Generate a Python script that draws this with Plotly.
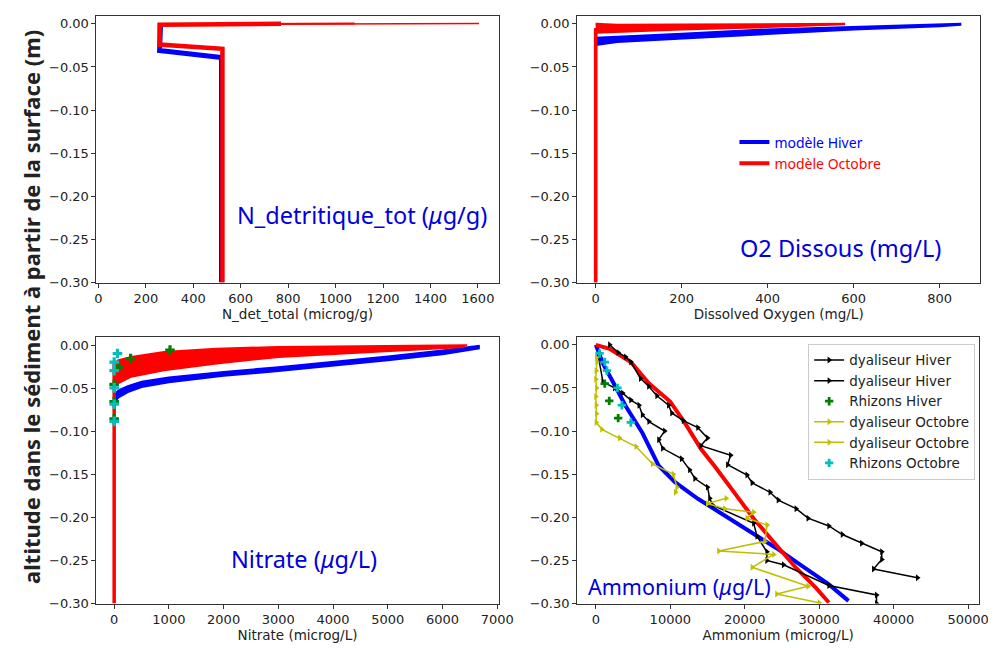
import plotly.graph_objects as go

BLUE = "#0000ff"
RED = "#ff0000"
BLACK = "#000000"
YEL = "#bfbf00"
CYAN = "#00bfbf"
GREEN = "#008000"

# ---------------- N_detritique (top-left) ----------------
ndet_hiver_depth = [0.0, -0.031, -0.039, -0.30]
ndet_hiver = [262, 258, 519, 519]
ndet_oct_depth = [0.0, -0.001, -0.024, -0.029, -0.30]
ndet_oct = [770, 258, 258, 523, 523]
ndet_spike_depth = [0.0003, -0.0008]
ndet_spike_a = [1605, 258]
ndet_spike_b = [1080, 258]

# ---------------- O2 (top-right) ----------------
o2_hiver_x = [850, 800, 600, 400, 200, 50, 0]
o2_hiver_top = [0.0, -0.0007, -0.0038, -0.0065, -0.0115, -0.015, -0.016]
o2_hiver_bot = [-0.001, -0.0027, -0.0065, -0.0115, -0.0165, -0.021, -0.0245]
o2_oct_x = [580, 400, 200, 50, 0]
o2_oct_top = [0.0, 0.0, -0.0008, -0.001, 0.0]
o2_oct_bot = [-0.0005, -0.0038, -0.0065, -0.009, -0.0103]
o2_vert_x = [0, 0]
o2_vert_depth = [-0.005, -0.30]

# ---------------- Nitrate (bottom-left) ----------------
no3_hiver_x = [6680, 6000, 5000, 4000, 3000, 2000, 1000, 500, 250, 80, 0]
no3_hiver_top_y = [0.0, -0.0055, -0.0125, -0.019, -0.025, -0.0305, -0.037, -0.042, -0.047, -0.052, -0.057]
no3_hiver_bot_y = [-0.003, -0.0100, -0.0170, -0.0235, -0.0295, -0.0350, -0.0425, -0.048, -0.054, -0.060, -0.066]
no3_oct_top_x = [6450, 5000, 3000, 1870, 910, 310, 70, 0]
no3_oct_top_y = [0.0005, -0.0005, -0.0015, -0.0034, -0.0073, -0.013, -0.017, -0.022]
no3_oct_bot_x = [6400, 5000, 4000, 3000, 1870, 910, 310, 50, 0]
no3_oct_bot_y = [-0.0015, -0.006, -0.009, -0.013, -0.0207, -0.0284, -0.036, -0.0437, -0.046]
no3_vert_x = [0, 0]
no3_vert_depth = [-0.02, -0.30]
no3_rhiz_hiver_x = [1020, 300, 80, 0, 0, 0]
no3_rhiz_hiver_y = [-0.005, -0.015, -0.025, -0.045, -0.065, -0.085]
no3_rhiz_oct_x = [60, 0, 0, 0, 0, 0]
no3_rhiz_oct_y = [-0.009, -0.019, -0.029, -0.049, -0.068, -0.088]

# ---------------- Ammonium (bottom-right) ----------------
nh4_oct_x = [0, 1846, 4703, 7121, 9978, 11956, 14154, 15912, 18549, 21187, 23824, 26901, 29538, 31297]
nh4_oct_y = [0.0, -0.0046, -0.0199, -0.0447, -0.0657, -0.0906, -0.1211, -0.1402, -0.1708, -0.2014, -0.2281, -0.2587, -0.2816, -0.2988]
nh4_hiver_x = [0, 967, 2286, 4044, 6242, 8440, 10637, 13714, 17231, 20747, 24264, 27780, 31297, 33934]
nh4_hiver_y = [0.0, -0.0218, -0.0428, -0.0715, -0.102, -0.1402, -0.1593, -0.1785, -0.1976, -0.2167, -0.2358, -0.2568, -0.2778, -0.2969]

dial_h1_x = [1850, 3000, 4000, 4700, 6000, 7100, 8200, 9770, 10200, 11750, 13700, 15000, 14100, 18100,
             17700, 20300, 21000, 23400, 24500, 26900, 28500, 31300, 33100, 35700, 38400, 38400, 37300, 43200]
dial_h1_y = [0.0, -0.009, -0.014, -0.02, -0.039, -0.048, -0.059, -0.07, -0.079, -0.088, -0.096, -0.108, -0.117, -0.128,
             -0.139, -0.151, -0.16, -0.171, -0.18, -0.19, -0.201, -0.21, -0.22, -0.23, -0.24, -0.249, -0.26, -0.27]
dial_h2_x = [300, 964, 2500, 3600, 4700, 5800, 6250, 7130, 9240, 8450, 8970, 11500, 12600, 13300, 15000, 15300,
             15700, 21200, 21650, 22970, 22970, 25200, 31300, 37700, 37700]
dial_h2_y = [-0.012, -0.043, -0.050, -0.056, -0.064, -0.070, -0.081, -0.089, -0.100, -0.110, -0.120, -0.132, -0.145,
             -0.155, -0.165, -0.178, -0.186, -0.207, -0.222, -0.240, -0.250, -0.255, -0.279, -0.290, -0.300]
rhiz_h_x = [1200, 1800, 3000]
rhiz_h_y = [-0.045, -0.065, -0.085]
dial_o1_x = [100, 150, 50, 0, 100, 0, 50, 100, 50, 800, 3200, 5400, 7600, 10400, 10900, 10700]
dial_o1_y = [-0.015, -0.02, -0.03, -0.04, -0.05, -0.06, -0.07, -0.08, -0.09, -0.098, -0.108, -0.118, -0.138, -0.15, -0.165, -0.171]
dial_o2_x = [17500, 15000, 17300, 21200, 20300, 23000, 22700, 16500, 23900, 21000, 28500, 24300, 30000]
dial_o2_y = [-0.178, -0.184, -0.19, -0.194, -0.201, -0.209, -0.228, -0.239, -0.243, -0.258, -0.28, -0.289, -0.299]
rhiz_o_x = [500, 1200, 1500, 2900, 3500, 4700]
rhiz_o_y = [-0.01, -0.02, -0.03, -0.05, -0.07, -0.09]

fig = go.Figure()


def line(x, y, color, width, xa, ya, fill=None, name=None, legend=None, show=False):
    fig.add_trace(go.Scatter(
        x=x, y=y, mode="lines", xaxis=xa, yaxis=ya,
        line=dict(color=color, width=width),
        fill=fill, fillcolor=color if fill else None,
        name=name, showlegend=show, legend=legend, hoverinfo="skip"))


# top-left
line(ndet_hiver, ndet_hiver_depth, BLUE, 5, "x", "y")
line(ndet_spike_a, ndet_spike_depth, RED, 1.5, "x", "y")
line(ndet_spike_b, ndet_spike_depth, RED, 2, "x", "y")
line(ndet_oct, ndet_oct_depth, RED, 4.5, "x", "y")

# top-right
line(o2_vert_x, o2_vert_depth, BLUE, 3, "x2", "y2")
line(o2_hiver_x, o2_hiver_top, BLUE, 2, "x2", "y2")
line(o2_hiver_x, o2_hiver_bot, BLUE, 2, "x2", "y2", fill="tonexty")
line(o2_oct_x, o2_oct_top, RED, 2, "x2", "y2")
line(o2_oct_x, o2_oct_bot, RED, 2, "x2", "y2", fill="tonexty")
line(o2_vert_x, o2_vert_depth, RED, 3.5, "x2", "y2")

# bottom-left
line(no3_hiver_x, no3_hiver_top_y, BLUE, 2, "x3", "y3")
line(no3_hiver_x, no3_hiver_bot_y, BLUE, 2, "x3", "y3", fill="tonexty")
line(no3_oct_top_x, no3_oct_top_y, RED, 2, "x3", "y3")
line(no3_oct_bot_x, no3_oct_bot_y, RED, 2, "x3", "y3", fill="tonexty")
line(no3_vert_x, no3_vert_depth, RED, 3.5, "x3", "y3")
fig.add_trace(go.Scatter(x=no3_rhiz_hiver_x, y=no3_rhiz_hiver_y, mode="markers", xaxis="x3", yaxis="y3",
                         marker=dict(symbol="cross", size=8, color=GREEN), showlegend=False, hoverinfo="skip"))
fig.add_trace(go.Scatter(x=no3_rhiz_oct_x, y=no3_rhiz_oct_y, mode="markers", xaxis="x3", yaxis="y3",
                         marker=dict(symbol="cross", size=8, color=CYAN), showlegend=False, hoverinfo="skip"))

# bottom-right models (also feed the top-right legend)
line(nh4_hiver_x, nh4_hiver_y, BLUE, 4, "x4", "y4", name='<span style="color:#0000ff">modèle Hiver</span>',
     legend="legend", show=True)
line(nh4_oct_x, nh4_oct_y, RED, 4, "x4", "y4", name='<span style="color:#ff0000">modèle Octobre</span>',
     legend="legend", show=True)


def obs(x, y, color, name, mode, symbol, size):
    fig.add_trace(go.Scatter(
        x=x, y=y, mode=mode, xaxis="x4", yaxis="y4", name=name, legend="legend2",
        line=dict(color=color, width=1.5),
        marker=dict(symbol=symbol, size=size, color=color), hoverinfo="skip"))


obs(dial_h1_x, dial_h1_y, BLACK, "dyaliseur Hiver", "lines+markers", "triangle-right", 6)
obs(dial_h2_x, dial_h2_y, BLACK, "dyaliseur Hiver", "lines+markers", "triangle-right", 6)
obs(rhiz_h_x, rhiz_h_y, GREEN, "Rhizons Hiver", "markers", "cross", 7)
obs(dial_o1_x, dial_o1_y, YEL, "dyaliseur Octobre", "lines+markers", "triangle-right", 6)
obs(dial_o2_x, dial_o2_y, YEL, "dyaliseur Octobre", "lines+markers", "triangle-right", 6)
obs(rhiz_o_x, rhiz_o_y, CYAN, "Rhizons Octobre", "markers", "cross", 7)

W, H = 996, 648
TICKF = dict(family="DejaVu Sans", size=13, color="#222")


def xax(left, right, rng, dtick, title, anchor):
    return dict(domain=[left / W, right / W], range=rng, dtick=dtick, tick0=0, anchor=anchor, tickformat="d",
                showline=True, mirror=True, linecolor="#333", linewidth=1, ticks="outside", ticklen=4,
                tickcolor="#333", showgrid=False, zeroline=False, tickfont=TICKF,
                title=dict(text=title, font=dict(family="DejaVu Sans", size=13.5, color="#222"), standoff=1))


def yax(top, bottom, rng, anchor):
    return dict(domain=[1 - bottom / H, 1 - top / H], range=rng, dtick=0.05, tick0=0, tickformat=".2f",
                anchor=anchor, showline=True, mirror=True, linecolor="#333", linewidth=1, ticks="outside",
                ticklen=4, tickcolor="#333", showgrid=False, zeroline=False, tickfont=TICKF)


comic = "Comic Sans MS, Noto Sans, sans-serif"
fig.update_layout(
    width=W, height=H, margin=dict(l=0, r=0, t=0, b=0),
    paper_bgcolor="white", plot_bgcolor="white",
    xaxis=xax(88, 497, [-8, 1687], 200, "N_det_total (microg/g)", "y"),
    yaxis=yax(8, 278, [-0.30, 0.0092], "x"),
    xaxis2=xax(577, 987, [-43, 894], 200, "Dissolved Oxygen (mg/L)", "y2"),
    yaxis2=yax(8, 278, [-0.30, 0.0092], "x2"),
    xaxis3=xax(88, 497, [-323, 7023], 1000, "Nitrate (microg/L)", "y3"),
    yaxis3=yax(333, 603, [-0.30, 0.0103], "x3"),
    xaxis4=xax(577, 986, [-2508, 51485], 10000, "Ammonium (microg/L)", "y4"),
    yaxis4=yax(333, 603, [-0.30, 0.0092], "x4"),
    legend=dict(x=737 / W, y=1 - 120 / H, xanchor="left", yanchor="top", bgcolor="rgba(0,0,0,0)",
                borderwidth=0, font=dict(family=comic, size=14), traceorder="normal"),
    legend2=dict(x=812 / W, y=1 - 340 / H, xanchor="left", yanchor="top", bgcolor="white",
                 bordercolor="#cccccc", borderwidth=1, traceorder="normal",
                 font=dict(family="DejaVu Sans", size=13.5, color="#222")),
)

for txt, x, y, sz in [("N_detritique_tot (<i>μ</i>g/g)", 358, 210, 23.5),
                      ("O2 Dissous (mg/L)", 845, 243, 23.5),
                      ("Nitrate (<i>μ</i>g/L)", 299, 558, 23.5),
                      ("Ammonium (<i>μ</i>g/L)", 681, 586, 21.5)]:
    fig.add_annotation(text=txt, x=x / W, y=1 - y / H, xref="paper", yref="paper",
                       showarrow=False, font=dict(family=comic, size=sz, color="#0000dd"),
                       xanchor="center", yanchor="middle")

fig.add_annotation(text="<b>altitude dans le sédiment à partir de la surface (m)</b>", x=22 / W, y=1 - 303 / H,
                   xref="paper", yref="paper", showarrow=False, textangle=-90,
                   font=dict(family=comic, size=22, color="#222"), xanchor="center", yanchor="middle")

fig.write_html("out.html")
